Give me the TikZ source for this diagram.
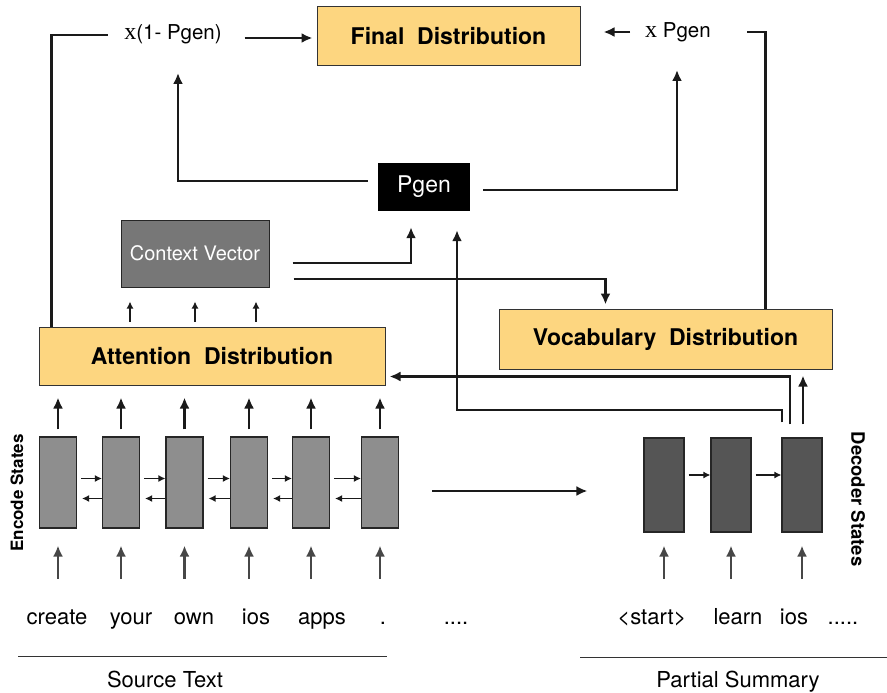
\documentclass[tikz,border=0pt]{standalone}
\usepackage{fontspec}
\setmainfont{TeX Gyre Heros}
\newfontfamily\serifx{Liberation Serif}
\usetikzlibrary{arrows.meta,calc}
\definecolor{distyellow}{HTML}{FDD680}
\definecolor{encgray}{HTML}{8E8E8E}
\definecolor{decgray}{HTML}{555555}
\definecolor{ctxgray}{HTML}{777777}
\definecolor{lnblack}{HTML}{1A1A1A}
\tikzset{
 dist/.style={draw=black!80, fill=distyellow, line width=1pt, font=\bfseries\fontsize{23}{27}\selectfont, inner sep=0pt},
 encbox/.style={draw=black!85, fill=encgray, line width=1.1pt, minimum width=37pt, minimum height=91pt, inner sep=0pt},
 decbox/.style={encbox, fill=decgray, minimum width=40pt, minimum height=94pt},
 word/.style={font=\fontsize{22}{26}\selectfont, anchor=base, inner sep=0pt},
 arr/.style={-{Latex[length=11pt,width=10pt]}, line width=2.3pt, draw=lnblack},
 conn/.style={line width=2.3pt, draw=lnblack},
 sarr/.style={-{Latex[length=7pt,width=7pt]}, line width=1.5pt, draw=lnblack},
 garr/.style={-{Latex[length=11pt,width=10pt]}, line width=2.4pt, draw=black!72},
 mult/.style={font=\fontsize{20.5}{24}\selectfont, inner sep=0pt},
}
\begin{document}
\begin{tikzpicture}[x=1pt,y=-1pt]
\fill[white] (0,0) rectangle (887,693);
\useasboundingbox (0,0) rectangle (887,693);

% main boxes
\node[dist, minimum width=263pt, minimum height=59pt] (final) at (448.5,36.5) {Final\ \ Distribution};
\node[mult] (xone) at (173,34) {{\serifx\fontsize{24}{26}\selectfont x}(1- Pgen)};
\node[mult] (xpg) at (678,32) {{\serifx\fontsize{24}{26}\selectfont x} Pgen};
\node[fill=black, text=white, minimum width=92pt, minimum height=48pt, font=\fontsize{23}{27}\selectfont, inner sep=0pt] (pgen) at (424,187) {Pgen};
\node[draw=black!85, fill=ctxgray, text=white, line width=1pt, minimum width=148pt, minimum height=67pt, font=\fontsize{20}{24}\selectfont, inner sep=0pt] (ctx) at (195,253.5) {Context Vector};
\node[dist, minimum width=346pt, minimum height=58pt] (att) at (212,356) {Attention\ \ Distribution};
\node[dist, minimum width=333pt, minimum height=60pt] (vocab) at (665.5,339) {Vocabulary\ \ Distribution};

% encoder
\node[encbox] (e1) at (58,482.5) {};
\node[encbox] (e2) at (121,482.5) {};
\node[encbox] (e3) at (184.5,482.5) {};
\node[encbox] (e4) at (249,482.5) {};
\node[encbox] (e5) at (311,482.5) {};
\node[encbox] (e6) at (380,482.5) {};

% decoder
\node[decbox] (d1) at (664,485) {};
\node[decbox] (d2) at (731,485) {};
\node[decbox] (d3) at (802,485) {};

% words
\node[word] (w1) at (57,624) {create};
\node[word] (w2) at (131,624) {your};
\node[word] (w3) at (194,624) {own};
\node[word] (w4) at (256,624) {ios};
\node[word] (w5) at (322,624) {apps};
\node[word] (w6) at (383,624) {.};
\node[word] (w7) at (456,624) {....};
\node[word] (v1) at (652,624) {<start>};
\node[word] (v2) at (738,624) {learn};
\node[word] (v3) at (794,624) {ios};
\node[word] (v4) at (843,624) {.....};

\node[word] (src) at (165,687) {Source Text};
\node[word] (psum) at (738,687) {Partial Summary};
\draw[line width=1pt, black!80] (18,656) -- (387,656);
\draw[line width=1pt, black!80] (580,657) -- (887,657);

\node[rotate=90, font=\bfseries\fontsize{17}{20}\selectfont, inner sep=0pt] (encl) at (17,493) {Encode States};
\node[rotate=-90, font=\bfseries\fontsize{18.5}{22}\selectfont, inner sep=0pt] (decl) at (858,499) {Decoder States};

% top connectors
\draw[conn] ($(att.north west)+(13,0)$) |- ($(xone.center)+(-65,1)$);
\draw[arr] ($(final.west)+(-72,1.5)$) -- ($(final.west)+(-4,1.5)$);
\draw[arr] ($(pgen.west)+(-10,-6)$) -| ($(xone.center)+(5,39)$);
\draw[arr] ($(pgen.east)+(13,3)$) -| ($(xpg.center)+(-1,38)$);
\draw[arr] ($(xpg.center)+(-48,0)$) -- ($(final.east)+(23,-4.5)$);
\draw[conn] ($(xpg.center)+(69,0)$) -| ($(vocab.north east)+(-67,0)$);

% context vector outputs
\draw[arr] ($(ctx.east)+(23,9.5)$) -| ($(pgen.south)+(-13,16)$);
\draw[arr] ($(ctx.east)+(24,25.5)$) -| ($(vocab.north west)+(107,-4)$);

% attention -> context
\foreach \x in {130,195,256}{
  \draw[sarr] ($(att.north)+(\x-212,-5)$) -- ($(ctx.south)+(\x-195,14)$);
}

% encoder arrows
\foreach \i in {1,...,6}{
  \draw[arr] ($(e\i.north)+(0,-7)$) -- ($(e\i.north |- att.south)+(0,12)$);
  \draw[garr] ($(e\i.south)+(0,50)$) -- ($(e\i.south)+(0,17)$);
}
\foreach \i/\j in {1/2,2/3,3/4,4/5,5/6}{
  \draw[sarr] ($(e\i.east)+(4,-4)$) -- ($(e\j.west)+(0,-4)$);
  \draw[sarr] ($(e\j.west)+(0,16)$) -- ($(e\i.east)+(5,16)$);
}

% decoder arrows
\foreach \i in {1,2,3}{
  \draw[garr] ($(d\i.south)+(0,46)$) -- ($(d\i.south)+(0,13)$);
}
\draw[sarr] ($(d1.east)+(4,-10)$) -- ($(d2.west)+(0,-10)$);
\draw[sarr] ($(d2.east)+(4,-10)$) -- ($(d3.west)+(0,-10)$);

% encoder -> decoder
\draw[arr] ($(e6.east)+(33,8.5)$) -- ($(d1.west)+(-56,6)$);

% decoder -> attention / pgen / vocab
\draw[arr] ($(d3.north)+(-12,-13)$) |- ($(att.south east)+(4,-9)$);
\draw[arr] ($(d3.north)+(-20,-15)$) |- ($(pgen.south)+(33,199)$) -- ($(pgen.south)+(33,19)$);
\draw[arr] ($(d3.north)+(1,-13)$) -- ($(d3.north |- vocab.south)+(1,6)$);
\end{tikzpicture}
\end{document}
